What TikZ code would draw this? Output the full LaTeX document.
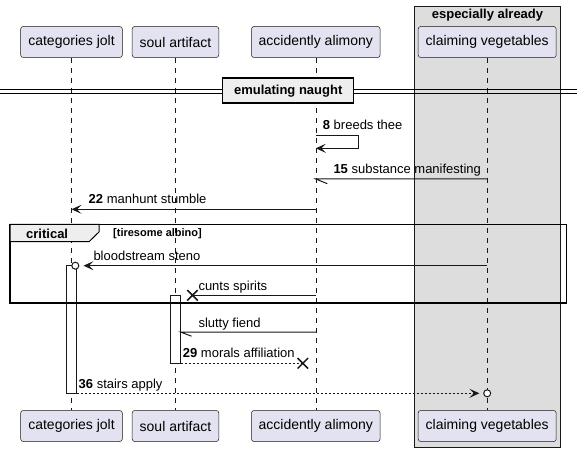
\documentclass[tikz,border=0pt]{standalone}
\usepackage{fontspec}
\setmainfont{Liberation Sans}
\usepackage{xcolor}
\usetikzlibrary{arrows.meta, positioning, shapes.misc, calc}
\definecolor{partfill}{HTML}{E2E2F0}
\definecolor{partline}{HTML}{181818}
\definecolor{boxfill}{HTML}{DDDDDD}
\definecolor{tabfill}{HTML}{EEEEEE}

\begin{document}
\begin{tikzpicture}[x=1pt, y=-1pt,
    every node/.style={font=\fontsize{13}{15}\selectfont},
    part/.style={rectangle, draw=partline, line width=0.5pt, rounded corners=2.5pt, fill=partfill, minimum height=31pt, inner sep=0pt, font=\fontsize{14}{16}\selectfont},
    lifeline/.style={draw=partline, line width=0.5pt, dash pattern=on 5pt off 5pt},
    msgline/.style={draw=partline, line width=1pt},
    msgarrow/.style={msgline, -{Stealth[length=10pt, width=9pt, inset=4.5pt]}},
    retline/.style={msgline, dash pattern=on 2pt off 2pt},
    retarrow/.style={retline, -{Stealth[length=10pt, width=9pt, inset=4.5pt]}},
    lbl/.style={anchor=base west, inner sep=0pt},
    endcirc/.style={circle, draw=partline, line width=1pt, fill=white, minimum size=7pt, inner sep=0pt},
    xmark/.style={cross out, draw=partline, line width=1.5pt, minimum size=9pt, inner sep=0pt},
    actbar/.style={draw=partline, line width=1pt, fill=white},
    hdr/.style={font=\fontsize{13}{15}\selectfont\bfseries},
    divbox/.style={rectangle, draw=black, line width=1.5pt, fill=tabfill, minimum width=131pt, minimum height=25pt, inner sep=0pt, font=\fontsize{13}{15}\selectfont\bfseries}
]
\useasboundingbox (0,0) rectangle (582,452);

% ── Box: especially already ──
\draw[draw=partline, line width=0.5pt, fill=boxfill] (414.3,6) rectangle (560.7,447);
\node[hdr] (grp) at (487.5,15.5) {especially already};

% ── Participants ──
\node[part, minimum width=101.6pt] (cj) at (71.5,42) {categories jolt};
\node[part, minimum width=86.6pt]  (sa) at (175.5,42) {soul artifact};
\node[part, minimum width=128.6pt] (aa) at (315.8,42) {accidently alimony};
\node[part, minimum width=138pt]   (cv) at (487.2,42) {claiming vegetables};

\node[part, minimum width=101.6pt] (cjb) at (71.5,426) {categories jolt};
\node[part, minimum width=86.6pt]  (sab) at (175.5,426) {soul artifact};
\node[part, minimum width=128.6pt] (aab) at (315.8,426) {accidently alimony};
\node[part, minimum width=138pt]   (cvb) at (487.2,426) {claiming vegetables};

\draw[lifeline] (cj) -- (cjb);
\draw[lifeline] (sa) -- (sab);
\draw[lifeline] (aa) -- (aab);
\draw[lifeline] (cv) -- (cvb);

% ── Divider ──
\draw[line width=1pt] (0,90) -- (577,90);
\draw[line width=1pt] (0,93.3) -- (577,93.3);
\node[divbox] (div) at (288.2,90.7) {emulating naught};

% ── Rows ──
\coordinate (r8a) at (0,135.7);
\coordinate (r8b) at (0,148.3);
\coordinate (r15) at (0,179);
\coordinate (r22) at (0,209.3);
\coordinate (rbs) at (0,265.7);
\coordinate (rcs) at (0,295.3);
\coordinate (rsf) at (0,332);
\coordinate (r29) at (0,363.3);
\coordinate (r36) at (0,393.3);

% ── Activations ──
\draw[actbar] ($(cj |- rbs)+(-4.8,0)$) rectangle ($(cj |- r36)+(5.2,0)$);
\draw[actbar] ($(sa |- rcs)+(-4.8,0)$) rectangle ($(sa |- r29)+(4.8,0)$);

% ── Messages ──
\draw[msgarrow] (aa |- r8a) -- ++(42.2,0) |- (aa |- r8b);
\node[lbl] (l8) at (322.7,130) {\textbf{8} breeds thee};

\draw[msgline] (cv |- r15) -- (aa |- r15) -- ++(11.5,4.7);
\node[lbl] (l15) at (333.3,173) {\textbf{15} substance manifesting};

\draw[msgarrow] (aa |- r22) -- (cj |- r22);
\node[lbl] (l22) at (88.5,204) {\textbf{22} manhunt stumble};

% ── critical ──
\draw[draw=black, line width=1.5pt] (10,224.3) rectangle (566.7,303);
\filldraw[draw=black, line width=1pt, fill=tabfill] (10,224.3) -- (99,224.3) -- (99,232) -- (89,241.7) -- (10,241.7) -- cycle;
\node[hdr, lbl] (crit) at (26,238.5) {critical};
\node[lbl, font=\fontsize{11}{13}\selectfont\bfseries] (guard) at (113,236.5) {[tiresome albino]};

\node[endcirc] (bsc) at (75.3,265.7) {};
\draw[msgarrow, shorten >=4.2pt] (cv |- rbs) -- (bsc.east);
\node[lbl] (lbs) at (93.3,260) {bloodstream steno};

\node[xmark] (xcs) at ($(sa |- rcs)+(17,0)$) {};
\draw[msgline] (aa |- rcs) -- (xcs.center);
\node[lbl] (lcs) at (198.3,290) {cunts spirits};

% ── Replies ──
\draw[msgline] (aa |- rsf) -- ($(sa |- rsf)+(5,0)$) -- ++(11,4.2);
\node[lbl] (lsf) at (198.3,327.3) {slutty fiend};

\node[xmark] (x29) at ($(aa |- r29)+(-13,0)$) {};
\draw[retline] ($(sa |- r29)+(5,0)$) -- (x29.center);
\node[lbl] (l29) at (182.7,357.3) {\textbf{29} morals affiliation};

\node[endcirc] (c36) at (cv |- r36) {};
\draw[retarrow, shorten >=3.8pt] ($(cj |- r36)+(5.2,0)$) -- (c36.west);
\node[lbl] (l36) at (78.5,388) {\textbf{36} stairs apply};

\end{tikzpicture}
\end{document}
